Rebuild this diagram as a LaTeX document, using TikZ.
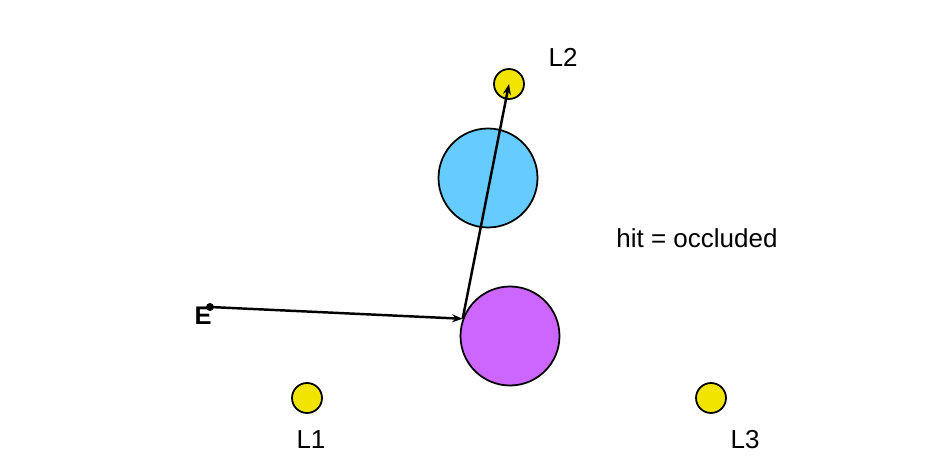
\documentclass[tikz,border=0pt]{standalone}
\usepackage{fontspec}
\setmainfont{Liberation Sans}
\usetikzlibrary{arrows.meta,positioning}
\definecolor{skyball}{HTML}{66CCFF}
\definecolor{violetball}{HTML}{CC66FF}
\definecolor{lampyel}{HTML}{F0E400}

\begin{document}
\begin{tikzpicture}[ball/.style={circle,draw,line width=1pt,inner sep=0pt,minimum size=1.98cm},lamp/.style={circle,draw,line width=1pt,fill=lampyel,inner sep=0pt,minimum size=0.6cm},lbl/.style={font=\fontsize{14.8}{17}\selectfont},ray/.style={-{Stealth[length=6pt,width=4.5pt]},line width=1.4pt}]
\useasboundingbox (0,0) rectangle (18.5,-9.22);
\node[ball,fill=skyball](blue) at (9.76,-3.56){};\node[ball,fill=violetball](pur) at (10.2,-6.72){};
\node[lamp](l1) at (6.14,-7.96){};\node[lamp](l2) at (10.18,-1.68){};\node[lamp](l3) at (14.22,-7.96){};
\node[lbl](l1txt) at (6.22,-8.8){L1};\node[lbl](l2txt) at (11.26,-1.14){L2};\node[lbl](l3txt) at (14.9,-8.8){L3};
\node[lbl](hit) at (13.94,-4.76){hit = occluded};
\node[font=\bfseries\fontsize{14.5}{16}\selectfont](eye) at (4.06,-6.32){E};
\fill (4.2,-6.14) coordinate (eyept) circle (0.08);
\coordinate (hitpt) at (pur.160);
\draw[ray](eyept)--(hitpt);
\draw[ray](hitpt)--(l2.center);
\end{tikzpicture}
\end{document}
